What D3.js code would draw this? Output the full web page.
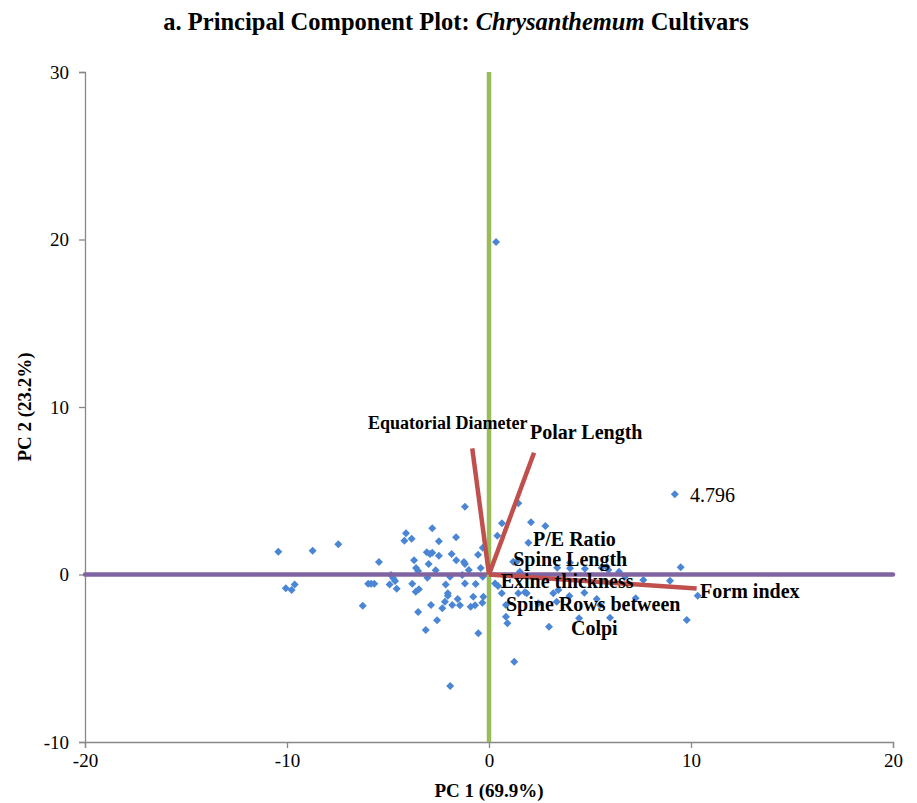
<!DOCTYPE html>
<html>
<head>
<meta charset="utf-8">
<script src="https://cdn.jsdelivr.net/npm/d3@7"></script>
<style>
  body { margin: 0; background: #fff; }
  text { font-family: "Liberation Serif", "Times New Roman", serif; }
</style>
</head>
<body>
<div id="pca"></div>
<script>
// cultivar scores (PC1, PC2)
const pc1 = [-10.43,-8.73,-7.46,-1.19,-2.81,-4.11,-4.19,-3.83,-2.48,-1.63,-5.45,-3.08,-2.92,-2.81,-2.48,-1.85,-0.54,-0.31,-3.71,-2.99,
  -1.62,-1.24,-1.19,-3.61,-3.51,-2.64,-1.00,-0.41,0.41,-10.06,-9.77,-9.62,-5.98,-5.84,-5.68,-4.92,-4.85,-4.74,-4.65,-4.57,
  -3.80,-3.63,-3.47,-3.05,-2.14,-1.93,-1.32,-1.19,-0.66,-0.31,-2.04,-2.04,-2.18,-2.31,-1.55,-1.82,-1.44,-0.91,-0.69,-0.33,
  -2.87,-3.51,-2.57,-3.13,-0.53,-6.25,-1.92,0.45,-0.78,-0.28,0.30,0.63,1.37,1.53,9.20,1.45,0.64,2.08,2.79,1.95,
  3.38,4.01,4.75,5.58,5.91,6.44,9.49,8.96,7.64,1.45,1.87,3.18,3.43,3.98,4.72,5.33,7.26,10.33,0.84,0.84,
  0.91,2.97,4.46,5.99,9.79,1.25,6.73,0.35,1.20,4.01,5.83,1.78,2.44,3.35,5.50];
const pc2 = [1.36,1.42,1.80,4.05,2.76,2.46,2.02,2.14,1.98,2.22,0.75,1.33,1.22,1.30,1.12,1.22,1.18,1.60,0.85,0.63,
  0.85,0.75,0.63,0.39,0.21,0.25,0.27,0.39,2.32,-0.82,-0.93,-0.59,-0.55,-0.55,-0.55,-0.59,-0.03,-0.23,-0.39,-0.85,
  -0.55,-1.03,-0.88,-0.19,-0.59,-0.13,-0.03,-0.53,-0.57,-0.13,-1.12,-1.27,-1.62,-2.02,-1.46,-1.82,-1.84,-1.92,-1.84,-1.68,
  -1.82,-2.24,-2.73,-3.31,-3.51,-1.86,-6.66,-0.69,-1.33,-1.33,-0.53,-1.12,0.76,0.17,4.796,4.25,3.06,3.12,2.90,1.90,
  0.41,0.37,0.35,0.41,0.27,0.17,0.43,-0.37,-0.33,-1.12,-1.12,-1.12,-0.93,-1.28,-1.09,-1.46,-1.42,-1.27,-1.82,-2.52,
  -2.91,-3.12,-2.61,-2.58,-2.72,-5.21,-0.13,19.85,0.76,0.70,0.47,-1.06,-1.72,-1.62,-1.82];

// loading vectors (scaled)
const vecNames = ["Equatorial Diameter", "Polar Length", "Form index"];
const vecX = [-0.83, 2.23, 10.28];
const vecY = [7.53, 7.27, -0.83];

// variable labels
const labelText = ["Equatorial Diameter", "Polar Length", "P/E Ratio", "Spine Length",
  "Exine thickness", "Spine Rows between", "Colpi", "Form index"];

const xTicks = [-20, -10, 0, 10, 20];
const yTicks = [-10, 0, 10, 20, 30];

const width = 917, height = 803;
const svg = d3.select("#pca").append("svg")
  .attr("width", width).attr("height", height);

const x = d3.scaleLinear().domain([-20, 20]).range([85, 893]);
const y = d3.scaleLinear().domain([-10, 30]).range([742, 72]);

// title
const title = svg.append("text")
  .attr("x", 456).attr("y", 30)
  .attr("text-anchor", "middle")
  .style("font-size", "24.5px").style("font-weight", "bold");
title.append("tspan").text("a. Principal Component Plot: ");
title.append("tspan").style("font-style", "italic").text("Chrysanthemum");
title.append("tspan").text(" Cultivars");

// axes
const xAxis = svg.append("g")
  .attr("transform", "translate(0," + y(-10) + ")")
  .call(d3.axisBottom(x).tickValues(xTicks).tickSize(6).tickPadding(6).tickFormat(d3.format("d")));
const yAxis = svg.append("g")
  .attr("transform", "translate(" + x(-20) + ",0)")
  .call(d3.axisLeft(y).tickValues(yTicks).tickSize(6).tickPadding(10).tickFormat(d3.format("d")));
[xAxis, yAxis].forEach(function(a) {
  a.select(".domain").attr("stroke", "#888").attr("stroke-width", 1.3);
  a.selectAll(".tick line").attr("stroke", "#888").attr("stroke-width", 1.3);
  a.selectAll(".tick text").style("font-size", "19px").attr("fill", "#000")
    .style("font-family", "'Liberation Serif', serif");
});
// the axis shows "-" as a proper minus, excel uses a hyphen
svg.selectAll(".tick text").text(function(d) { return String(d); });

svg.append("text")
  .attr("x", x(0)).attr("y", 797)
  .attr("text-anchor", "middle")
  .style("font-size", "19px").style("font-weight", "bold")
  .text("PC 1 (69.9%)");
svg.append("text")
  .attr("transform", "translate(31," + y(10) + ") rotate(-90)")
  .attr("text-anchor", "middle")
  .style("font-size", "19px").style("font-weight", "bold")
  .text("PC 2 (23.2%)");

// scores
const pts = pc1.map(function(d, i) { return { x: d, y: pc2[i] }; });
svg.append("g").selectAll("path")
  .data(pts).enter()
  .append("path")
  .attr("d", d3.symbol().type(d3.symbolSquare).size(32))
  .attr("transform", function(d) { return "translate(" + x(d.x) + "," + y(d.y) + ") rotate(45)"; })
  .attr("fill", "#4a86d4");

// reference lines through origin
svg.append("line")
  .attr("x1", x(-20)).attr("x2", x(20)).attr("y1", y(0)).attr("y2", y(0))
  .attr("stroke", "#8064a2").attr("stroke-width", 4.5).attr("stroke-linecap", "round");
svg.append("line")
  .attr("x1", x(0)).attr("x2", x(0)).attr("y1", y(30)).attr("y2", y(-10))
  .attr("stroke", "#9bbb59").attr("stroke-width", 4.5);

// loading vectors
svg.append("g").selectAll("line")
  .data(vecNames).enter()
  .append("line")
  .attr("x1", x(0)).attr("y1", y(0))
  .attr("x2", function(d, i) { return x(vecX[i]); })
  .attr("y2", function(d, i) { return y(vecY[i]); })
  .attr("stroke", "#c0504d").attr("stroke-width", 4.5);

// label placement (data coords of text start / baseline)
const labelPos = [[-5.99, 8.69, 18], [2.03, 8.09, 20], [2.18, 1.72, 20], [1.20, 0.51, 20],
  [0.58, -0.82, 20], [0.84, -2.16, 20], [4.06, -3.61, 20], [10.45, -1.42, 20]];
svg.append("g").selectAll("text")
  .data(labelText).enter()
  .append("text")
  .attr("x", function(d, i) { return x(labelPos[i][0]); })
  .attr("y", function(d, i) { return y(labelPos[i][1]); })
  .style("font-size", function(d, i) { return labelPos[i][2] + "px"; })
  .style("font-weight", "bold")
  .text(function(d) { return d; });

// data label for the outlier
svg.append("text")
  .attr("x", x(9.95)).attr("y", y(4.31))
  .style("font-size", "20px")
  .text("4.796");
</script>
</body>
</html>
